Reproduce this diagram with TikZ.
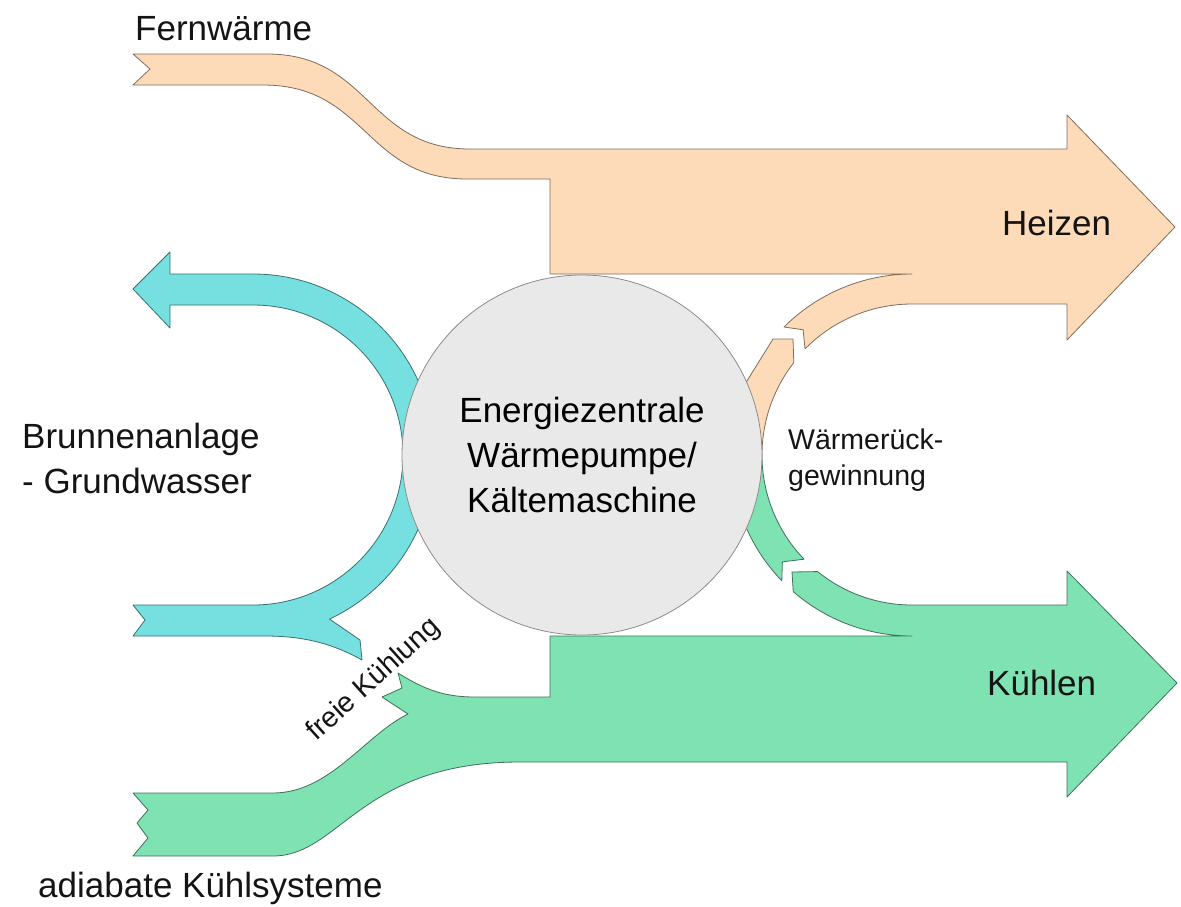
\documentclass[tikz,border=0pt]{standalone}
\usepackage{fontspec}
\setmainfont{Liberation Sans}
\usetikzlibrary{calc}
\definecolor{heatc}{RGB}{253,219,185}
\definecolor{wellc}{RGB}{118,223,223}
\definecolor{coolc}{RGB}{127,226,178}
\definecolor{plantc}{RGB}{233,233,233}
\tikzset{
	flow/.style={fill=#1,draw=#1!50!black,line width=0.8pt,line join=round},
	plant/.style={circle,fill=plantc,draw=black!45,line width=0.8pt,minimum size=360pt,inner sep=0pt,align=center,font=\fontsize{35}{45}\selectfont},
	lbl/.style={inner sep=0pt,text=black!92,font=\fontsize{35}{45}\selectfont},
	slbl/.style={inner sep=0pt,text=black!92,font=\fontsize{28.5}{36}\selectfont}
}
\begin{document}
\begin{tikzpicture}[x=1pt,y=-1pt]
	\useasboundingbox (0,0) rectangle (1181,906);
	\coordinate (wc) at (253,455);
	\coordinate (rc) at (912,455);

	\draw[flow=heatc] (133,54) -- (267,54) .. controls (370,54) and (368,149) .. (470,149) -- (1067,149) -- (1067,115) -- (1175,227) -- (1067,340) -- (1067,304) -- (912,304)
		arc[start angle=270,end angle=224.5,radius=150] -- ($(rc)+(229:166)$) -- ($(rc)+(225:181)$)
		arc[start angle=225,end angle=270,radius=181] -- (550,274) -- (550,179) -- (467,179) .. controls (365,179) and (367,85) .. (263,85) -- (133,85) -- (150,69) -- cycle;

	\draw[flow=coolc] (133,793) -- (273,793) .. controls (330,793) and (365,735) .. (408,714) -- (382,697) -- (402,688) -- (398,673) .. controls (425,690) and (445,697) .. (475,697) -- (550,697) -- (550,636) -- (912,636)
		arc[start angle=90,end angle=131,radius=181] -- (792,572) -- ($(rc)+(129:150)$)
		arc[start angle=129,end angle=90,radius=150] -- (1067,605) -- (1067,571) -- (1177,683) -- (1067,797) -- (1067,762) -- (520,762) .. controls (360,762) and (340,856) .. (273,856) -- (133,856) -- (148,838) -- (137,823) -- (148,810) -- cycle;

	\draw[flow=wellc] (133,289) -- (170,252) -- (170,274) -- (253,274)
		arc[start angle=-90,end angle=65,radius=181] -- (360,640) -- (362,660) .. controls (330,642) and (300,636) .. (265,636) -- (133,636) -- (145,620) -- (133,605) -- (253,605)
		arc[start angle=90,end angle=-90,radius=150] -- (170,305) -- (170,328) -- cycle;

	\draw[flow=heatc] ($(rc)+(180:181)$) arc[start angle=180,end angle=204,radius=181] -- (773,339) -- (793,339) -- ($(rc)+(218:150)$) arc[start angle=218,end angle=180,radius=150] -- cycle;
	\draw[flow=coolc] ($(rc)+(180:181)$) arc[start angle=180,end angle=136,radius=181] -- ($(rc)+(140.5:168)$) -- ($(rc)+(136:150)$) arc[start angle=136,end angle=180,radius=150] -- cycle;

	\node[plant] (ez) at (582,455) {Energiezentrale\\Wärmepumpe/\\Kältemaschine};

	\node[lbl,anchor=base west] (fw) at (135,40) {Fernwärme};
	\node[lbl,anchor=base west] (hz) at (1002,235) {Heizen};
	\node[lbl,anchor=base west] (kl) at (987,695) {Kühlen};
	\node[lbl,anchor=west,align=left] (bg) at (22,458) {Brunnenanlage\\- Grundwasser};
	\node[slbl,anchor=west,align=left] (wr) at (788,460) {Wärmerück-\\gewinnung};
	\node[lbl,anchor=base west] (ak) at (38,897) {adiabate Kühlsysteme};
	\node[slbl,rotate=42] (fk) at (374,680) {freie Kühlung};
\end{tikzpicture}
\end{document}
